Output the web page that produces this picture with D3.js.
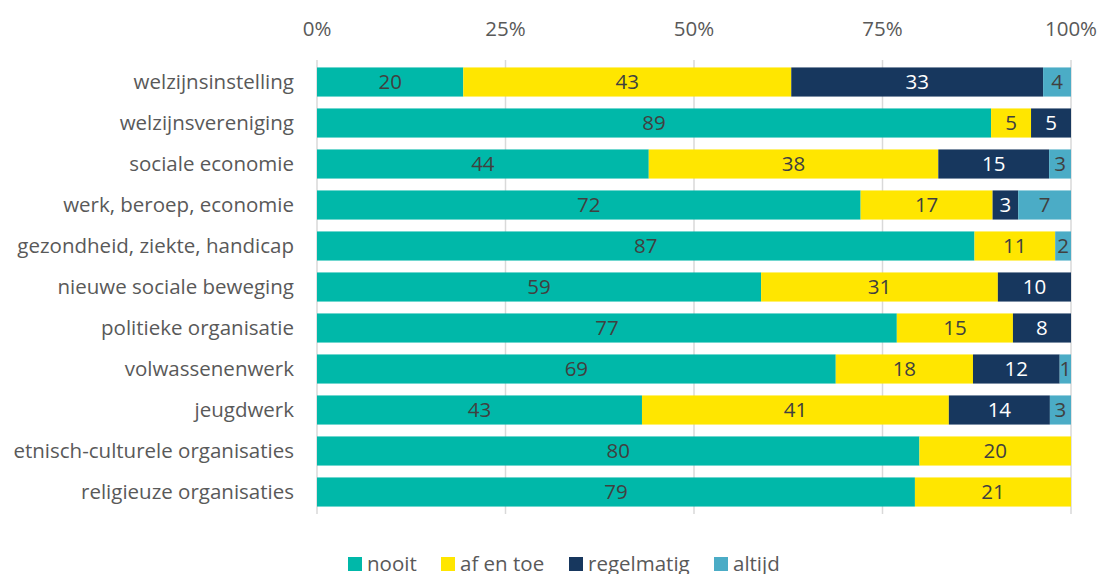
<!DOCTYPE html>
<html>
<head>
<meta charset="utf-8">
<script src="https://cdn.jsdelivr.net/npm/d3@7"></script>
<style>
  body { margin: 0; background: #fff; }
  svg text { font-family: "Open Sans", sans-serif; }
</style>
</head>
<body>
<svg width="1100" height="574"></svg>
<script>
// categories, top to bottom
var categories = [
    "welzijnsinstelling",
    "welzijnsvereniging",
    "sociale economie",
    "werk, beroep, economie",
    "gezondheid, ziekte, handicap",
    "nieuwe sociale beweging",
    "politieke organisatie",
    "volwassenenwerk",
    "jeugdwerk",
    "etnisch-culturele organisaties",
    "religieuze organisaties"
];

var series = ["nooit", "af en toe", "regelmatig", "altijd"];

// shares in %
var nooit      = [19.4, 89.4, 44.0, 72.1, 87.2, 58.9, 76.9, 68.8, 43.1, 79.9, 79.3];
var afEnToe    = [43.5,  5.3, 38.4, 17.5, 10.7, 31.4, 15.4, 18.2, 40.7, 20.1, 20.7];
var regelmatig = [33.4,  5.3, 14.7,  3.4,  0.0,  9.7,  7.7, 11.5, 13.4,  0.0,  0.0];
var altijd     = [ 3.7,  0.0,  2.9,  7.0,  2.1,  0.0,  0.0,  1.5,  2.8,  0.0,  0.0];

// labels printed in the bars
var nooitLbl      = [20, 89, 44, 72, 87, 59, 77, 69, 43, 80, 79];
var afEnToeLbl    = [43,  5, 38, 17, 11, 31, 15, 18, 41, 20, 21];
var regelmatigLbl = [33,  5, 15,  3,  0, 10,  8, 12, 14,  0,  0];
var altijdLbl     = [ 4,  0,  3,  7,  2,  0,  0,  1,  3,  0,  0];

var ticks = [0, 0.25, 0.5, 0.75, 1];

var colors = ["#00b8a9", "#ffe600", "#17375e", "#4bacc6"];
var labelColors = ["#404040", "#404040", "#ffffff", "#404040"];

// build rows (normalised to 100%)
var rows = categories.map(function(c, i) {
    var vals = [nooit[i], afEnToe[i], regelmatig[i], altijd[i]];
    var total = d3.sum(vals);
    var r = { cat: c, lbls: [nooitLbl[i], afEnToeLbl[i], regelmatigLbl[i], altijdLbl[i]] };
    series.forEach(function(s, j) { r[s] = vals[j] / total; });
    return r;
});

var stacked = d3.stack().keys(series)(rows);

var svg = d3.select("svg");
var fontSize = "20.5px";

var x = d3.scaleLinear().domain([0, 1]).range([317, 1071]);
var y = d3.scaleBand().domain(categories).range([61.5, 512.5]).paddingInner(0.29).paddingOuter(0.145);

// gridlines
svg.append("g")
    .selectAll("line")
    .data(ticks)
    .enter().append("line")
    .attr("x1", function(d) { return x(d); })
    .attr("x2", function(d) { return x(d); })
    .attr("y1", 60)
    .attr("y2", 514)
    .style("stroke", "#d9d9d9")
    .style("stroke-width", 1.5);

// tick labels on top
svg.append("g")
    .selectAll("text")
    .data(ticks)
    .enter().append("text")
    .attr("x", function(d) { return x(d); })
    .attr("y", 36)
    .attr("text-anchor", "middle")
    .style("font-size", fontSize)
    .style("fill", "#595959")
    .text(function(d) { return d3.format(".0%")(d); });

// bars
var layers = svg.append("g")
    .selectAll("g")
    .data(stacked)
    .enter().append("g")
    .style("fill", function(d, i) { return colors[i]; });

layers.selectAll("rect")
    .data(function(d) { return d; })
    .enter().append("rect")
    .filter(function(d) { return d[1] - d[0] > 0; })
    .attr("x", function(d) { return x(d[0]); })
    .attr("width", function(d) { return x(d[1]) - x(d[0]); })
    .attr("y", function(d) { return y(d.data.cat); })
    .attr("height", y.bandwidth());

// value labels
stacked.forEach(function(layer, i) {
    svg.append("g")
        .selectAll("text")
        .data(layer.filter(function(d) { return d[1] - d[0] > 0; }))
        .enter().append("text")
        .attr("x", function(d) { return (x(d[0]) + x(d[1])) / 2; })
        .attr("y", function(d) { return y(d.data.cat) + y.bandwidth() / 2; })
        .attr("dy", "0.36em")
        .attr("text-anchor", "middle")
        .style("font-size", fontSize)
        .style("fill", labelColors[i])
        .text(function(d) { return d.data.lbls[i]; });
});

// category labels
svg.append("g")
    .selectAll("text")
    .data(categories)
    .enter().append("text")
    .attr("x", 294)
    .attr("y", function(d) { return y(d) + y.bandwidth() / 2; })
    .attr("dy", "0.34em")
    .attr("text-anchor", "end")
    .style("font-size", fontSize)
    .style("fill", "#595959")
    .text(function(d) { return d; });

// legend
var legendX = [348, 441, 569, 714];
var legend = svg.append("g")
    .selectAll("g")
    .data(series)
    .enter().append("g")
    .attr("transform", function(d, i) { return "translate(" + legendX[i] + ",557)"; });

legend.append("rect")
    .attr("width", 14)
    .attr("height", 14)
    .style("fill", function(d, i) { return colors[i]; });

legend.append("text")
    .attr("x", 19)
    .attr("y", 7)
    .attr("dy", "0.36em")
    .style("font-size", fontSize)
    .style("fill", "#595959")
    .text(function(d) { return d; });
</script>
</body>
</html>
